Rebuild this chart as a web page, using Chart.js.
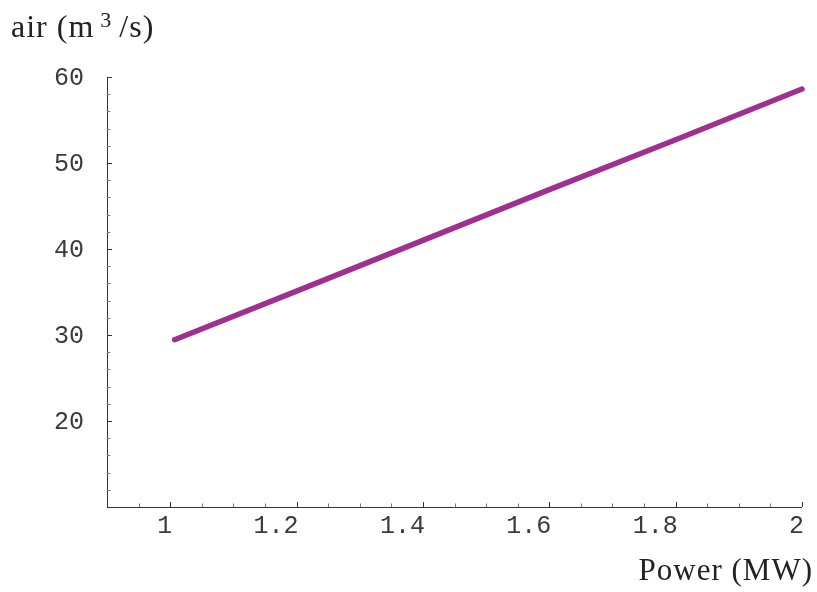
<!DOCTYPE html>
<html>
<head>
<meta charset="utf-8">
<script src="https://cdn.jsdelivr.net/npm/chart.js@4"></script>
<style>
  html, body { margin: 0; padding: 0; background: #fff; }
  canvas { display: block; }
</style>
</head>
<body>
<canvas id="chart" width="817" height="592"></canvas>
<script>
'use strict';

// Values
const power = [1.007, 1.2, 1.4, 1.6, 1.8, 2.0];
const airFlow = [29.45, 35.1, 41.0, 46.9, 52.7, 58.6];
const xTicks = [1, 1.2, 1.4, 1.6, 1.8, 2];
const yTicks = [20, 30, 40, 50, 60];
const xRange = [0.9, 2];
const yRange = [10, 60];

const lineColor = '#a0308f';
const axisColor = '#333';
const monoFont = '25px "Liberation Mono", "Courier New", monospace';
const serifFont = '"Liberation Serif", "Times New Roman", serif';

// Mathematica-style frame: axes, inward ticks, labels, titles
const axesPlugin = {
  id: 'mmaAxes',
  afterDraw(chart) {
    const { ctx } = chart;
    const x = chart.scales.x;
    const y = chart.scales.y;
    const x0 = x.getPixelForValue(xRange[0]);
    const x1 = x.getPixelForValue(xRange[1]);
    const y0 = y.getPixelForValue(yRange[0]);
    const y1 = y.getPixelForValue(yRange[1]);

    ctx.save();
    ctx.lineWidth = 1;

    // axis lines
    ctx.strokeStyle = axisColor;
    ctx.beginPath();
    ctx.moveTo(x0 + 0.5, y0);
    ctx.lineTo(x0 + 0.5, y1);
    ctx.moveTo(x0, y0 + 0.5);
    ctx.lineTo(x1, y0 + 0.5);
    ctx.stroke();

    // minor ticks
    ctx.strokeStyle = '#777';
    ctx.beginPath();
    for (let i = 1; i <= 22; i++) {
      const v = xRange[0] + i * 0.05;
      if (i % 4 === 2) continue;
      const px = Math.round(x.getPixelForValue(v)) + 0.5;
      ctx.moveTo(px, y0);
      ctx.lineTo(px, y0 - 3.5);
    }
    for (let v = 12; v <= 60; v += 2) {
      if (v % 10 === 0) continue;
      const py = Math.round(y.getPixelForValue(v)) + 0.5;
      ctx.moveTo(x0, py);
      ctx.lineTo(x0 + 3.5, py);
    }
    ctx.stroke();

    // major ticks
    ctx.strokeStyle = axisColor;
    ctx.beginPath();
    for (const v of xTicks) {
      const px = Math.round(x.getPixelForValue(v)) + 0.5;
      ctx.moveTo(px, y0);
      ctx.lineTo(px, y0 - 5);
    }
    for (const v of yTicks) {
      const py = Math.round(y.getPixelForValue(v)) + 0.5;
      ctx.moveTo(x0, py);
      ctx.lineTo(x0 + 5, py);
    }
    ctx.stroke();

    // tick labels
    ctx.fillStyle = '#3a3a3a';
    ctx.font = monoFont;
    ctx.textBaseline = 'middle';
    ctx.textAlign = 'right';
    for (const v of xTicks) {
      ctx.fillText(String(v), x.getPixelForValue(v) + 2, y0 + 19);
    }
    for (const v of yTicks) {
      ctx.fillText(String(v), x0 - 23, y.getPixelForValue(v) + 1);
    }

    // axis titles
    ctx.fillStyle = '#222';
    ctx.textBaseline = 'alphabetic';
    ctx.textAlign = 'left';
    ctx.font = '32px ' + serifFont;
    ctx.letterSpacing = '1px';
    ctx.fillText('air (m', 11, 37);
    const w = ctx.measureText('air (m').width;
    ctx.font = '22px ' + serifFont;
    ctx.fillText('3', 11 + w + 6, 27);
    ctx.font = '32px ' + serifFont;
    ctx.fillText('/s)', 11 + w + 25, 37);

    ctx.font = '31px ' + serifFont;
    ctx.textAlign = 'right';
    ctx.fillText('Power (MW)', 813, 580);
    ctx.restore();
  }
};

new Chart(document.getElementById('chart'), {
  type: 'line',
  data: {
    datasets: [{
      label: 'air',
      data: power.map((p, i) => ({ x: p, y: airFlow[i] })),
      borderColor: lineColor,
      borderWidth: 5.5,
      borderCapStyle: 'round',
      borderJoinStyle: 'round',
      pointRadius: 0,
      tension: 0,
      clip: false,
    }],
  },
  options: {
    responsive: false,
    animation: false,
    layout: { padding: { left: 107, right: 15, top: 77, bottom: 85 } },
    plugins: { legend: { display: false }, tooltip: { enabled: false } },
    scales: {
      x: { type: 'linear', min: xRange[0], max: xRange[1], display: false },
      y: { type: 'linear', min: yRange[0], max: yRange[1], display: false },
    },
  },
  plugins: [axesPlugin],
});
</script>
</body>
</html>
